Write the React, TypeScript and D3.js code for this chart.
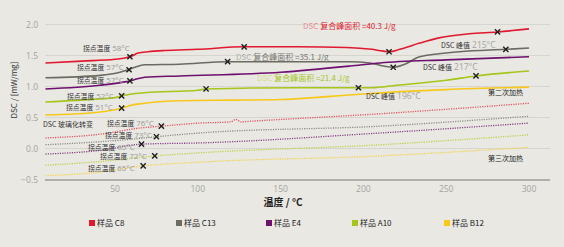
import React from "react";
import * as d3 from "d3";

const W = 564, H = 247;

const xTicks = [50, 100, 150, 200, 250, 300];
const yTicks = [-0.5, 0, 0.5, 1.0, 1.5, 2.0];

const seriesNames = ["样品 C8", "样品 C13", "样品 E4", "样品 A10", "样品 B12"];
const seriesColors = ["#e1192f", "#6b6b62", "#6e106e", "#a6c61c", "#f7c81a"];
const dottedColors = ["#e2535d", "#8d8d84", "#874087", "#bcd34a", "#f4d24a"];

// First heating (solid)
const c8T = [8, 30, 50, 56, 60, 64, 70, 80, 100, 128, 160, 190, 205, 212, 216, 222, 234, 245, 264, 281, 300];
const c8V = [1.38, 1.41, 1.44, 1.46, 1.49, 1.54, 1.56, 1.58, 1.6, 1.64, 1.64, 1.63, 1.6, 1.57, 1.56, 1.6, 1.7, 1.78, 1.85, 1.88, 1.93];
const c13T = [8, 41, 53, 58, 62, 68, 89, 118, 162, 192, 204, 212, 218, 225, 234, 258, 286, 300];
const c13V = [1.14, 1.18, 1.23, 1.27, 1.31, 1.35, 1.36, 1.4, 1.4, 1.4, 1.38, 1.33, 1.31, 1.36, 1.48, 1.56, 1.6, 1.62];
const e4T = [8, 41, 55, 59, 63, 68, 89, 150, 192, 210, 250, 300];
const e4V = [0.96, 1.02, 1.07, 1.09, 1.12, 1.15, 1.17, 1.23, 1.33, 1.38, 1.43, 1.48];
const a10T = [8, 41, 50, 54, 60, 68, 100, 105, 160, 197, 205, 220, 250, 268, 300];
const a10V = [0.75, 0.8, 0.82, 0.85, 0.88, 0.9, 0.94, 0.96, 0.98, 0.98, 0.98, 1.02, 1.1, 1.17, 1.25];
const b12T = [8, 41, 54, 60, 68, 90, 120, 150, 180, 200, 250, 300];
const b12V = [0.54, 0.59, 0.65, 0.7, 0.73, 0.77, 0.78, 0.79, 0.84, 0.88, 0.95, 0.99];

// Second heating (dotted)
const c8bT = [8, 41, 65, 78, 101, 120, 123, 126, 132, 210, 300];
const c8bV = [0.17, 0.23, 0.33, 0.36, 0.41, 0.43, 0.47, 0.43, 0.44, 0.56, 0.73];
const c13bT = [8, 41, 60, 75, 101, 210, 300];
const c13bV = [0.06, 0.11, 0.15, 0.19, 0.25, 0.36, 0.52];
const e4bT = [8, 41, 66, 101, 210, 300];
const e4bV = [-0.09, -0.03, 0.07, 0.09, 0.25, 0.41];
const a10bT = [8, 41, 74, 101, 210, 300];
const a10bV = [-0.27, -0.21, -0.12, -0.07, 0.06, 0.22];
const b12bT = [8, 41, 67, 101, 210, 300];
const b12bV = [-0.44, -0.38, -0.28, -0.22, -0.12, 0.02];

const solidSeries = [[c8T, c8V], [c13T, c13V], [e4T, e4V], [a10T, a10V], [b12T, b12V]];
const dottedSeries = [[c8bT, c8bV], [c13bT, c13bV], [e4bT, e4bV], [a10bT, a10bV], [b12bT, b12bV]];

// marker points (temperature, value)
const markT = [59, 128, 215.5, 281, 58.5, 118, 218, 286, 59, 54, 105, 197, 268, 54, 78, 75, 66, 74, 67];
const markV = [1.48, 1.64, 1.56, 1.88, 1.27, 1.4, 1.31, 1.6, 1.09, 0.85, 0.96, 0.98, 1.17, 0.65, 0.36, 0.19, 0.07, -0.12, -0.28];

const onsetLabels = ["58°C", "57°C", "57°C", "52°C", "51°C", "76°C", "73°C", "65°C", "72°C", "65°C"];
const onsetPos = [[83, 48], [77, 67], [77, 80], [67, 96], [66, 107], [107, 123], [105, 135.5], [88, 147], [100, 156.5], [88, 168]];

const x = d3.scaleLinear().domain([0, 300]).range([32.2, 529]);
const y = d3.scaleLinear().domain([-0.5, 2.0]).range([179.5, 24.5]);

const line = d3.line<[number, number]>()
  .x(d => x(d[0]))
  .y(d => y(d[1]))
  .curve(d3.curveMonotoneX);

const CJK = "'Noto Sans CJK SC', sans-serif";
const NUM = "'Open Sans', 'Liberation Sans', sans-serif";

function Onset({ px, py, temp }: { px: number; py: number; temp: string }) {
  return (
    <text x={px} y={py + 2.5} fontFamily={CJK} fontSize={6.8} fill="#333">
      拐点温度
      <tspan fill="#9a9a96" fontFamily={NUM} fontSize={8} dx={2}>{temp}</tspan>
    </text>
  );
}

export default function App() {
  const pts = (T: number[], V: number[]) => T.map((t, i) => [t, V[i]] as [number, number]);
  return (
    <svg width={W} height={H} style={{ position: "absolute", left: 0, top: 0, display: "block" }}>
      <rect x={0} y={0} width={W} height={H} fill="#e9e8e3" />
      {/* gridlines */}
      {yTicks.filter(t => t > -0.5).map(t => (
        <line key={t} x1={45} x2={550} y1={y(t)} y2={y(t)} stroke="#d6d5cf" strokeWidth={1} />
      ))}
      <line x1={45} x2={550} y1={180} y2={180} stroke="#9c9c96" strokeWidth={1.5} />
      {/* y tick labels */}
      {yTicks.map(t => (
        <text key={t} x={38} y={y(t) + 3} textAnchor="end" fontFamily={NUM} fontSize={8.5} fill="#a4a4a0">
          {d3.format(".1f")(t)}
        </text>
      ))}
      {xTicks.map(t => (
        <text key={t} x={x(t)} y={192} textAnchor="middle" fontFamily={NUM} fontSize={8.5} fill="#a4a4a0">
          {t}
        </text>
      ))}
      <text transform="translate(17,90) rotate(-90)" textAnchor="middle" fontFamily={CJK} fontSize={8} fill="#333">
        DSC / [mW/mg]
      </text>
      <text x={283} y={206} textAnchor="middle" fontFamily={CJK} fontSize={10} fill="#222" fontWeight="bold">
        温度 / °C
      </text>

      {/* dotted (second heating) */}
      {dottedSeries.map(([T, V], i) => (
        <path key={"d" + i} d={line(pts(T, V)) || ""} fill="none" stroke={dottedColors[i]} strokeWidth={1.3} strokeDasharray="1.2 1.2" />
      ))}
      {/* solid (first heating) */}
      {solidSeries.map(([T, V], i) => (
        <path key={"s" + i} d={line(pts(T, V)) || ""} fill="none" stroke={seriesColors[i]} strokeWidth={1.6} />
      ))}

      {/* markers */}
      {markT.map((t, i) => {
        const cx = x(t), cy = y(markV[i]);
        const s = 2.6;
        return (
          <path key={"m" + i} d={`M${cx - s},${cy - s}L${cx + s},${cy + s}M${cx - s},${cy + s}L${cx + s},${cy - s}`} stroke="#1e1e1e" strokeWidth={1.4} />
        );
      })}

      {/* onset labels */}
      {onsetLabels.map((l, i) => (
        <Onset key={"o" + i} px={onsetPos[i][0]} py={onsetPos[i][1]} temp={l} />
      ))}
      <text x={43} y={126.5} fontFamily={CJK} fontSize={7} fill="#333">DSC 玻璃化转变</text>

      {/* area labels */}
      <text x={303} y={29} fontFamily={CJK} fontSize={8} fill="#e1192f">
        <tspan fill="#ee8a92">DSC</tspan> 复合峰面积 =40.3 J/g
      </text>
      <text x={236} y={60} fontFamily={CJK} fontSize={8} fill="#77776f">
        <tspan fill="#b0b0aa">DSC</tspan> 复合峰面积 =35.1 J/g
      </text>
      <text x={257} y={81} fontFamily={CJK} fontSize={8} fill="#a6c61c">
        <tspan fill="#cfe08a">DSC</tspan> 复合峰面积 =21.4 J/g
      </text>
      <text x={441} y={48} fontFamily={CJK} fontSize={7} fill="#333">
        DSC 峰值<tspan fill="#a4a4a0" fontFamily={NUM} fontSize={8.5} dx={2}>215°C</tspan>
      </text>
      <text x={423} y={70} fontFamily={CJK} fontSize={7} fill="#333">
        DSC 峰值<tspan fill="#a4a4a0" fontFamily={NUM} fontSize={8.5} dx={2}>217°C</tspan>
      </text>
      <text x={366} y={99} fontFamily={CJK} fontSize={7} fill="#333">
        DSC 峰值<tspan fill="#a4a4a0" fontFamily={NUM} fontSize={8.5} dx={2}>196°C</tspan>
      </text>
      <text x={488} y={95} fontFamily={CJK} fontSize={7} fill="#222">第二次加热</text>
      <text x={488} y={161} fontFamily={CJK} fontSize={7} fill="#222">第三次加热</text>

      {/* legend */}
      {seriesNames.map((n, i) => {
        const lx = [89, 176, 266, 352, 444][i];
        return (
          <g key={n}>
            <rect x={lx} y={220} width={6} height={6} fill={seriesColors[i]} />
            <text x={lx + 8} y={226} fontFamily={CJK} fontSize={8} fill="#222">{n}</text>
          </g>
        );
      })}
    </svg>
  );
}
